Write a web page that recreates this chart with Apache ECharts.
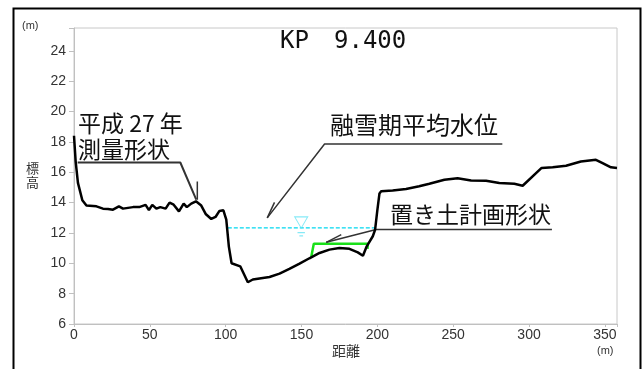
<!DOCTYPE html>
<html><head><meta charset="utf-8">
<script src="https://cdn.jsdelivr.net/npm/echarts@6/dist/echarts.min.js"></script>
<style>html,body{margin:0;padding:0;background:#fff}#c{width:643px;height:369px}</style>
</head><body><div id="c"></div>
<script>
// ---- data (distance m, elevation m) ----
const profileDist = [0,1.1,2.6,5.5,8.2,14.8,19.1,22.4,25.7,29.6,32.3,38.9,43,47.2,49.4,51.6,54.3,56.9,60.4,63,65.7,69.2,72.3,74.4,77.3,80.4,83.9,86.8,90.5,93.3,95.9,98.5,100.4,102.1,103.9,105.2,109.6,114.6,117.9,122.3,128.9,135.5,142,148.7,155.2,161.9,168.4,175,181.6,187.1,190.5,193.0,197,198.5,200,201.4,202.5,210.1,218.9,227.6,234.3,244.2,252.9,261.8,271.7,280.4,290.3,295.8,308.3,315.6,324.4,334.2,344.1,348.5,354,358];
const profileElev = [18.4,16.7,15.3,14.15,13.8,13.75,13.6,13.58,13.53,13.75,13.6,13.7,13.7,13.85,13.5,13.85,13.6,13.7,13.6,14.0,13.86,13.42,13.93,13.7,13.93,14.08,13.8,13.25,12.92,13.05,13.45,13.49,12.87,11.1,10.0,9.9,9.8,8.75,8.93,9.0,9.1,9.32,9.63,9.98,10.33,10.68,10.9,11.0,10.95,10.72,10.5,11.12,11.78,12.2,13.5,14.6,14.74,14.8,14.9,15.07,15.24,15.5,15.6,15.46,15.44,15.29,15.24,15.11,16.28,16.32,16.43,16.71,16.82,16.6,16.32,16.28];
const waterDist = [101.4,198.1];
const waterLevel = 12.33;
const planDist = [156.4,158.1,193.7,193.5];
const planElev = [10.42,11.28,11.28,10.95];
const waterSymbolPos = [149.8,12.43];
// annotation leader lines (data coords)
const lead1 = [[2.4,16.64],[70.1,16.64],[80.6,14.19]];
const lead1Tick = [[81.3,15.39],[81.3,14.19]];
const lead2 = [[282.4,17.86],[165.2,17.86],[127.4,12.99]];
const lead2Tick = [[132.2,14.01],[127.4,12.99]];
const lead3 = [[315.1,12.22],[199.2,12.22],[166.3,11.38]];
const lead3Tick = [[176.2,11.89],[166.3,11.38]];
const xTicks = [0,50,100,150,200,250,300,350];
const yTicks = [6,8,10,12,14,16,18,20,22,24];
const titleKP = 'KP';
const titleNo = '9.400';
const label1a = '平成 27 年', label1b = '測量形状';
const label2 = '融雪期平均水位';
const label3 = '置き土計画形状';

const zip = (a,b) => a.map((v,i)=>[v,b[i]]);
const narrow = "'Liberation Sans Narrow','Arial Narrow',sans-serif";
const jp = "'Noto Sans CJK JP',sans-serif";

const chart = echarts.init(document.getElementById('c'));
function leadSeries(d, w){ return {type:'line', data:d, symbol:'none', silent:true, lineStyle:{color:'#333', width:w||1.5}, z:4}; }

chart.setOption({
  animation:false,
  grid:{left:74, top:28, width:543, height:296, show:true, borderColor:'#c8c8c8', borderWidth:1},
  xAxis:{type:'value', min:0, max:358, interval:50,
    axisLine:{lineStyle:{color:'#c0c0c0'}}, axisTick:{show:true, length:3, lineStyle:{color:'#c0c0c0'}},
    splitLine:{show:false},
    axisLabel:{margin:4, color:'#333', fontFamily:narrow, fontSize:14,
      formatter:v=> xTicks.includes(v)? String(v):''}},
  yAxis:{type:'value', min:6, max:25.5, interval:2,
    axisLine:{show:true, lineStyle:{color:'#c0c0c0'}}, axisTick:{show:true, length:5, lineStyle:{color:'#c0c0c0'}},
    splitLine:{show:false},
    axisLabel:{margin:8, color:'#333', fontFamily:narrow, fontSize:14,
      formatter:v=> yTicks.includes(v)? String(v):''}},
  series:[
    {type:'line', data:zip(waterDist,[waterLevel,waterLevel]), symbol:'none', lineStyle:{color:'#00d8f0', width:1.3, type:[4,2]}, z:2},
    {type:'scatter', data:[waterSymbolPos], symbol:'path://M0,0 L14,0 L7,10 Z M3,14 L11,14 M5,17 L9,17', symbolSize:[13,19],
      itemStyle:{color:'rgba(0,0,0,0)', borderColor:'#66e4f4', borderWidth:1}, z:2},
    {type:'line', data:zip(planDist,planElev), symbol:'none', lineStyle:{color:'#19e019', width:2.5}, z:3},
    {type:'line', data:zip(profileDist,profileElev), symbol:'none', lineStyle:{color:'#000', width:2.5}, z:5},
    leadSeries(lead1, 2), leadSeries(lead1Tick),
    leadSeries(lead2), leadSeries(lead2Tick),
    leadSeries(lead3), leadSeries(lead3Tick)
  ],
  graphic:[
    {type:'rect', left:11, top:6, shape:{width:627, height:400}, style:{fill:'none', stroke:'#000', lineWidth:2}, z:100},
    {type:'text', left:280, top:30, style:{text:titleKP, font:"24px 'DejaVu Sans Mono',monospace", fill:'#111'}},
    {type:'text', left:334, top:30, style:{text:titleNo, font:"24px 'DejaVu Sans Mono',monospace", fill:'#111'}},
    {type:'text', left:22, top:20, style:{text:'(m)', font:"11px "+narrow, fill:'#333'}},
    {type:'text', left:26, top:161, style:{text:'標\n高', font:"13px "+jp, fill:'#333', lineHeight:14}},
    {type:'text', left:332, top:344, style:{text:'距離', font:"14px "+jp, fill:'#333'}},
    {type:'text', left:597, top:345, style:{text:'(m)', font:"11px "+narrow, fill:'#333'}},
    {type:'text', left:78, top:112, style:{text:label1a, font:"23px "+jp, fill:'#111'}},
    {type:'text', left:78, top:138, style:{text:label1b, font:"23px "+jp, fill:'#111'}},
    {type:'text', left:330, top:113, style:{text:label2, font:"24px "+jp, fill:'#111'}},
    {type:'text', left:390, top:203, style:{text:label3, font:"23px "+jp, fill:'#111'}}
  ]
});
</script></body></html>
